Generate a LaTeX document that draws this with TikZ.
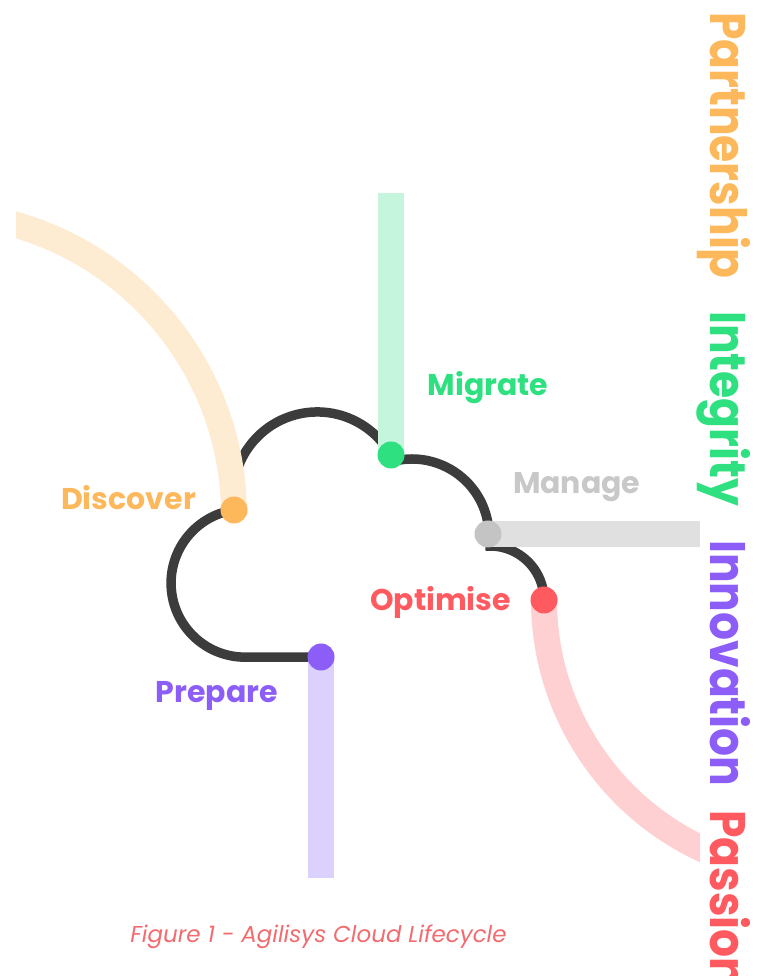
\documentclass[tikz,border=0pt]{standalone}
\usepackage{fontspec}
\setmainfont{Poppins}
\definecolor{cDark}{HTML}{3C3C3C}
\definecolor{cOrange}{HTML}{FDB85B}
\definecolor{cOrangeL}{HTML}{FDEBD2}
\definecolor{cGreen}{HTML}{2EE07F}
\definecolor{cGreenL}{HTML}{C5F6DD}
\definecolor{cGrey}{HTML}{C4C4C4}
\definecolor{cGreyT}{HTML}{C8C8C8}
\definecolor{cGreyL}{HTML}{E0E0E0}
\definecolor{cRed}{HTML}{FF5A5F}
\definecolor{cRedL}{HTML}{FFD0D1}
\definecolor{cPurple}{HTML}{8C5EF7}
\definecolor{cPurpleL}{HTML}{DCD1FD}
\definecolor{cCap}{HTML}{F26B6E}
\newcommand{\narrowtext}[1]{\scalebox{0.88}[1]{#1}}
\tikzset{
  dotnode/.style={circle, inner sep=0pt, minimum size=27pt, draw=none},
  band/.style={line width=26pt, line cap=butt},
  cloudline/.style={line width=9.5pt, draw=cDark, line cap=butt},
  lbl/.style={font=\fontsize{30}{36}\selectfont\bfseries, anchor=base, inner sep=0pt},
  vert/.style={font=\fontsize{50}{60}\selectfont\bfseries, rotate=-90, anchor=base west, inner sep=0pt},
  captext/.style={font=\fontsize{23}{27}\selectfont\itshape, text=cCap, inner sep=0pt}
}
\begin{document}
\begin{tikzpicture}[x=1pt,y=1pt]
\useasboundingbox (0,0) rectangle (760,976);
\clip (0,0) rectangle (760,976);
% anchor points
\coordinate (pD) at (234,466);
\coordinate (pM) at (391,521);
\coordinate (pG) at (488,442);
\coordinate (pO) at (544,376);
\coordinate (pP) at (321,319);
\coordinate (mEnd) at (391,783);
\coordinate (gEnd) at (700,442);
\coordinate (prEnd) at (321,98);
% cloud outline
\draw[cloudline] (pD) arc[start angle=98.6, end angle=270, radius=74] -- (pP);
\draw[cloudline] (pD) arc[start angle=189.3, end angle=29.4, radius=84.4];
\draw[cloudline] (412,440) ++(105:77) arc[start angle=105, end angle=0, radius=77];
\draw[cloudline] (490,376) ++(95:54) arc[start angle=95, end angle=0, radius=54];
% bands
\begin{scope}
\clip (16,0) rectangle (760,976);
\draw[band, cOrangeL] (pD) arc[start angle=1, end angle=82, radius=302.4];
\end{scope}
\begin{scope}
\clip (0,0) rectangle (700,976);
\draw[band, cRedL] (pO) arc[start angle=180, end angle=252, radius=275];
\end{scope}
\draw[band, cGreenL] (pM) -- (mEnd);
\draw[band, cGreyL] (pG) -- (gEnd);
\draw[band, cPurpleL] (pP) -- (prEnd);
% dots
\node[dotnode, fill=cOrange] (discover) at (pD) {};
\node[dotnode, fill=cGreen] (migrate) at (pM) {};
\node[dotnode, fill=cGrey] (manage) at (pG) {};
\node[dotnode, fill=cRed] (optimise) at (pO) {};
\node[dotnode, fill=cPurple] (prepare) at (pP) {};
% labels
\node[lbl, text=cOrange] (tDiscover) at (128.5,466) {Discover};
\node[lbl, text=cGreen] (tMigrate) at (488,580.3) {Migrate};
\node[lbl, text=cGreyT] (tManage) at (576.7,482.7) {Manage};
\node[lbl, text=cRed] (tOptimise) at (440.5,365.3) {Optimise};
\node[lbl, text=cPurple] (tPrepare) at (217,273) {Prepare};
% values
\node[vert, text=cOrange] (vPartnership) at (710,964) {\narrowtext{Partnership}};
\node[vert, text=cGreen] (vIntegrity) at (710,665) {\narrowtext{Integrity}};
\node[vert, text=cPurple] (vInnovation) at (710,436) {\narrowtext{Innovation}};
\node[vert, text=cRed] (vPassion) at (710,166) {\narrowtext{Passion}};
% caption
\node[captext] (caption) at (318.5,39) {Figure 1 - Agilisys Cloud Lifecycle};
\end{tikzpicture}
\end{document}
